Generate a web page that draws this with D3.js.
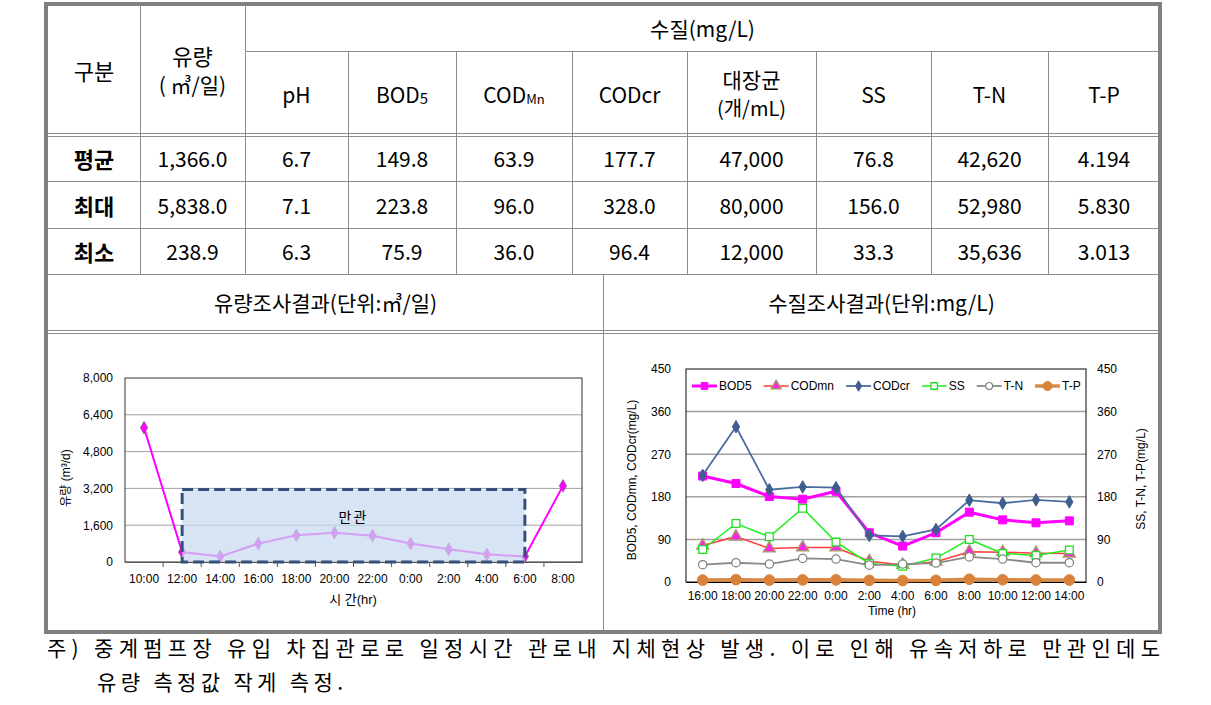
<!DOCTYPE html>
<html><head><meta charset="utf-8">
<script src="https://cdn.jsdelivr.net/npm/d3@7"></script>
<style>
body{margin:0;background:#fff}
svg{display:block}
</style>
</head><body>
<svg id="c" width="1211" height="705"></svg>
<script>
// ---------------- DATA ----------------
const rowLabels = ["평균", "최대", "최소"];
const avgRow = ["1,366.0", "6.7", "149.8", "63.9", "177.7", "47,000", "76.8", "42,620", "4.194"];
const maxRow = ["5,838.0", "7.1", "223.8", "96.0", "328.0", "80,000", "156.0", "52,980", "5.830"];
const minRow = ["238.9", "6.3", "75.9", "36.0", "96.4", "12,000", "33.3", "35,636", "3.013"];

const flowTimes = ["10:00", "12:00", "14:00", "16:00", "18:00", "20:00", "22:00", "0:00", "2:00", "4:00", "6:00", "8:00"];
const flowValues = [5838, 430, 239, 800, 1160, 1275, 1145, 800, 550, 335, 239, 3310];
const flowTicks = [0, 1600, 3200, 4800, 6400, 8000];
const fullPipeFrom = "12:00", fullPipeTo = "6:00", fullPipeTop = 3150;

const qualTimes = ["16:00", "18:00", "20:00", "22:00", "0:00", "2:00", "4:00", "6:00", "8:00", "10:00", "12:00", "14:00"];
const bod5  = [223.8, 208.0, 180.5, 175.0, 191.7, 104.0, 75.9, 104.0, 147.5, 131.3, 125.0, 129.2];
const codmn = [77.0, 96.0, 71.0, 73.0, 73.0, 44.0, 36.0, 43.0, 64.0, 63.0, 61.0, 60.0];
const codcr = [225.4, 328.0, 195.0, 200.8, 199.4, 98.3, 96.4, 111.0, 172.8, 166.4, 173.5, 169.2];
const ss    = [68.8, 123.6, 95.5, 156.0, 84.3, 39.3, 33.3, 50.6, 89.9, 60.4, 56.2, 67.4];
const tn    = [36.5, 40.7, 37.9, 49.9, 48.5, 35.6, 37.9, 40.0, 52.98, 48.5, 40.7, 40.7];
const tp    = [4.0, 5.0, 4.0, 4.5, 4.5, 3.5, 3.0, 3.5, 5.83, 4.8, 4.2, 4.2];
const qualTicks = [0, 90, 180, 270, 360, 450];
const seriesNames = ["BOD5", "CODmn", "CODcr", "SS", "T-N", "T-P"];

const footLine1 = "주) 중계펌프장 유입 차집관로로 일정시간 관로내 지체현상 발생. 이로 인해 유속저하로 만관인데도";
const footLine2 = "유량 측정값 작게 측정.";

// ---------------- DRAW ----------------
const svg = d3.select("#c");
const KR = '"Noto Sans CJK KR","Noto Sans",sans-serif';
const CH = '"Liberation Sans",Arial,"Noto Sans CJK KR",sans-serif';
const lineC = "#8c8c8c";

const tbl = svg.append("g");
function hline(x1, x2, y) { tbl.append("line").attr("x1", x1).attr("x2", x2).attr("y1", y + 0.5).attr("y2", y + 0.5).attr("stroke", lineC).attr("stroke-width", 1); }
function vline(x, y1, y2) { tbl.append("line").attr("x1", x + 0.5).attr("x2", x + 0.5).attr("y1", y1).attr("y2", y2).attr("stroke", lineC).attr("stroke-width", 1); }

const colX = [48, 140, 245, 348, 456, 572, 687, 816, 931, 1048, 1160];
const L = 48, R = 1160, T = 5, B = 632;

hline(245, R, 51);
hline(L, R, 133); hline(L, R, 136);
hline(L, R, 181); hline(L, R, 228); hline(L, R, 274);
hline(L, R, 330); hline(L, R, 333);
vline(140, T, 274); vline(245, T, 274);
for (let i = 3; i < colX.length - 1; i++) vline(colX[i], 51, 274);
vline(603, 274, B);
tbl.append("rect").attr("x", 46).attr("y", 4).attr("width", 1114).attr("height", 628)
  .attr("fill", "none").attr("stroke", "#808080").attr("stroke-width", 4);

function ktext(x, y, s, size, opts = {}) {
  const t = tbl.append("text").attr("x", x).attr("y", y).attr("text-anchor", "middle")
    .attr("dominant-baseline", "central").attr("font-family", KR).attr("font-size", size)
    .attr("fill", "#000");
  if (opts.weight) t.attr("font-weight", opts.weight);
  if (typeof s === "string") t.text(s);
  return t;
}
const cx = i => (colX[i] + colX[i + 1]) / 2;

// headers
ktext(cx(0), 70, "구분", 22);
ktext(cx(1), 55, "유량", 22);
ktext(cx(1), 84, "( ㎥/일)", 21);
ktext((245 + R) / 2, 28, "수질(mg/L)", 21);
ktext(cx(2), 94, "pH", 21);
let t = ktext(cx(3), 94, null, 21); t.append("tspan").text("BOD"); t.append("tspan").attr("font-size", 15).attr("dy", 3).text("5");
t = ktext(cx(4), 94, null, 21); t.append("tspan").text("COD"); t.append("tspan").attr("font-size", 13).attr("dy", 4).text("Mn");
ktext(cx(5), 94, "CODcr", 21);
ktext(cx(6), 79, "대장균", 21);
ktext(cx(6), 107, "(개/mL)", 20);
ktext(cx(7), 94, "SS", 21);
ktext(cx(8), 94, "T-N", 21);
ktext(cx(9), 94, "T-P", 21);

// rows
const rows = [avgRow, maxRow, minRow];
const rowMid = [158, 205, 251];
rows.forEach((r, ri) => {
  ktext(cx(0), rowMid[ri], rowLabels[ri], 22, { weight: 700 });
  r.forEach((v, ci) => ktext(cx(ci + 1), rowMid[ri], v, 21));
});

// chart titles
ktext((L + 603) / 2, 302, "유량조사결과(단위:㎥/일)", 21);
ktext((603 + R) / 2, 302, "수질조사결과(단위:mg/L)", 21);

// footnote
svg.append("text").attr("x", 47).attr("y", 656).attr("font-family", KR).attr("font-size", 21)
  .attr("textLength", 1113).attr("lengthAdjust", "spacing").attr("fill", "#000").text(footLine1);
svg.append("text").attr("x", 97).attr("y", 690).attr("font-family", KR).attr("font-size", 21)
  .attr("textLength", 246).attr("lengthAdjust", "spacing").attr("fill", "#000").text(footLine2);

// ---------------- LEFT CHART ----------------
{
  const g = svg.append("g");
  const x = d3.scaleBand().domain(flowTimes).range([125, 582]);
  const y = d3.scaleLinear().domain([0, 8000]).range([562, 378]);
  const bw = x.bandwidth();
  const px = d => x(d) + bw / 2;

  // grid
  g.selectAll("line.grid").data(flowTicks.filter(v => v > 0 && v < 8000)).join("line")
    .attr("x1", 125).attr("x2", 582).attr("y1", d => y(d)).attr("y2", d => y(d))
    .attr("stroke", "#a0a0a0").attr("stroke-width", 1);
  g.append("rect").attr("x", 125).attr("y", 378).attr("width", 457).attr("height", 184)
    .attr("fill", "none").attr("stroke", "#333").attr("stroke-width", 1);

  // y axis
  const ya = g.append("g").attr("transform", "translate(125,0)")
    .call(d3.axisLeft(y).tickValues(flowTicks).tickFormat(d3.format(",")).tickSize(0).tickPadding(12));
  ya.select(".domain").remove();
  ya.selectAll("text").attr("font-family", CH).attr("font-size", 12).attr("fill", "#000");

  // x axis
  const xa = g.append("g").attr("transform", "translate(0,562)")
    .call(d3.axisBottom(x).tickSize(0).tickPadding(12));
  xa.select(".domain").attr("stroke", "#555");
  xa.selectAll("text").attr("font-family", CH).attr("font-size", 12).attr("fill", "#000");
  g.selectAll("line.bt").data(flowTimes.slice(1)).join("line")
    .attr("x1", d => x(d)).attr("x2", d => x(d)).attr("y1", 562).attr("y2", 567).attr("stroke", "#555");

  const pts = flowTimes.map((k, i) => ({ k, v: flowValues[i] }));
  g.append("path").datum(pts).attr("d", d3.line().x(d => px(d.k)).y(d => y(d.v)))
    .attr("fill", "none").attr("stroke", "#ff00ff").attr("stroke-width", 2);
  g.selectAll("path.m").data(pts).join("path")
    .attr("transform", d => `translate(${px(d.k)},${y(d.v)})`)
    .attr("d", d3.symbol(d3.symbolDiamond, 45))
    .attr("fill", "#ff00ff").attr("stroke", "#8a4a8a").attr("stroke-width", 0.8);

  // full-pipe rectangle
  const rx1 = px(fullPipeFrom), rx2 = px(fullPipeTo);
  g.append("rect").attr("x", rx1).attr("y", y(fullPipeTop)).attr("width", rx2 - rx1).attr("height", y(0) - y(fullPipeTop))
    .attr("fill", "#c6d9f0").attr("fill-opacity", 0.72)
    .attr("stroke", "#34507a").attr("stroke-width", 3).attr("stroke-dasharray", "11,5");
  g.append("text").attr("x", (rx1 + rx2) / 2).attr("y", 522).attr("text-anchor", "middle")
    .attr("font-family", KR).attr("font-size", 14).attr("letter-spacing", 2).attr("fill", "#000").text("만관");

  g.append("text").attr("x", 353).attr("y", 604).attr("text-anchor", "middle")
    .attr("font-family", CH).attr("font-size", 13).attr("fill", "#000").text("시 간(hr)");
  g.append("text").attr("transform", "translate(70,478) rotate(-90)").attr("text-anchor", "middle")
    .attr("font-family", CH).attr("font-size", 12).attr("fill", "#000").text("유량 (m³/d)");
}

// ---------------- RIGHT CHART ----------------
{
  const g = svg.append("g");
  const x0 = 686, x1 = 1086, yT = 369, yB = 582;
  const x = d3.scaleBand().domain(qualTimes).range([x0, x1]);
  const y = d3.scaleLinear().domain([0, 450]).range([yB, yT]);
  const y2 = d3.scaleLinear().domain([0, 450]).range([yB, yT]);
  const bw = x.bandwidth();
  const px = d => x(d) + bw / 2;

  g.selectAll("line.grid").data(qualTicks.filter(v => v > 0 && v < 450)).join("line")
    .attr("x1", x0).attr("x2", x1).attr("y1", d => y(d)).attr("y2", d => y(d))
    .attr("stroke", "#a0a0a0").attr("stroke-width", 1.5);
  g.append("rect").attr("x", x0).attr("y", yT).attr("width", x1 - x0).attr("height", yB - yT)
    .attr("fill", "none").attr("stroke", "#333").attr("stroke-width", 1.2);

  const ya = g.append("g").attr("transform", `translate(${x0},0)`)
    .call(d3.axisLeft(y).tickValues(qualTicks).tickSize(0).tickPadding(15));
  ya.select(".domain").remove();
  ya.selectAll("text").attr("font-family", CH).attr("font-size", 12).attr("fill", "#000");
  const yb = g.append("g").attr("transform", `translate(${x1},0)`)
    .call(d3.axisRight(y2).tickValues(qualTicks).tickSize(0).tickPadding(11));
  yb.select(".domain").remove();
  yb.selectAll("text").attr("font-family", CH).attr("font-size", 12).attr("fill", "#000");

  const xa = g.append("g").attr("transform", `translate(0,${yB})`)
    .call(d3.axisBottom(x).tickSize(0).tickPadding(9));
  xa.select(".domain").attr("stroke", "#000");
  xa.selectAll("text").attr("font-family", CH).attr("font-size", 12).attr("fill", "#000");

  g.append("text").attr("x", 892).attr("y", 615).attr("text-anchor", "middle")
    .attr("font-family", CH).attr("font-size", 12).attr("fill", "#000").text("Time (hr)");
  g.append("text").attr("transform", "translate(636,480) rotate(-90)").attr("text-anchor", "middle")
    .attr("font-family", CH).attr("font-size", 12).attr("fill", "#000").text("BOD5, CODmn, CODcr(mg/L)");
  g.append("text").attr("transform", "translate(1145,479) rotate(-90)").attr("text-anchor", "middle")
    .attr("font-family", CH).attr("font-size", 12).attr("fill", "#000").text("SS, T-N, T-P(mg/L)");

  const styles = [
    { vals: bod5,  scale: y,  line: "#ff00ff", lw: 3,   sym: d3.symbolSquare,   size: 64, fill: "#ff00ff", stroke: "#ff00ff", sw: 1 },
    { vals: codmn, scale: y,  line: "#ff3b3b", lw: 1.5, sym: d3.symbolTriangle, size: 60, fill: "#ff22ee", stroke: "#a89868", sw: 1.5 },
    { vals: codcr, scale: y,  line: "#4a6d9e", lw: 1.8, sym: d3.symbolDiamond,  size: 45, fill: "#3e5e8e", stroke: "#3e5e8e", sw: 1 },
    { vals: ss,    scale: y2, line: "#22ee22", lw: 1.5, sym: d3.symbolSquare,   size: 60, fill: "#fff",    stroke: "#22dd22", sw: 1.3 },
    { vals: tn,    scale: y2, line: "#8a8a8a", lw: 1.8, sym: d3.symbolCircle,   size: 55, fill: "#fff",    stroke: "#808080", sw: 1.2 },
    { vals: tp,    scale: y2, line: "#d98a48", lw: 3.5, sym: d3.symbolCircle,   size: 90, fill: "#d9833a", stroke: "#d9833a", sw: 1 }
  ];
  styles.forEach(s => {
    const pts = qualTimes.map((k, i) => ({ k, v: s.vals[i] }));
    g.append("path").datum(pts).attr("d", d3.line().x(d => px(d.k)).y(d => s.scale(d.v)))
      .attr("fill", "none").attr("stroke", s.line).attr("stroke-width", s.lw);
    g.append("g").selectAll("path").data(pts).join("path")
      .attr("transform", d => `translate(${px(d.k)},${s.scale(d.v)})`)
      .attr("d", d3.symbol(s.sym, s.size))
      .attr("fill", s.fill).attr("stroke", s.stroke).attr("stroke-width", s.sw);
  });

  // legend
  let lx = 692; const ly = 386;
  seriesNames.forEach((n, i) => {
    const s = styles[i];
    g.append("line").attr("x1", lx).attr("x2", lx + 25).attr("y1", ly).attr("y2", ly)
      .attr("stroke", s.line).attr("stroke-width", s.lw);
    g.append("path").attr("transform", `translate(${lx + 12.5},${ly})`)
      .attr("d", d3.symbol(s.sym, s.size * 0.7)).attr("fill", s.fill).attr("stroke", s.stroke).attr("stroke-width", s.sw);
    const tx = g.append("text").attr("x", lx + 27).attr("y", ly).attr("dominant-baseline", "central")
      .attr("font-family", CH).attr("font-size", 12).attr("fill", "#000").text(n);
    lx += 27 + tx.node().getComputedTextLength() + 12;
  });
}
</script>
</body></html>
